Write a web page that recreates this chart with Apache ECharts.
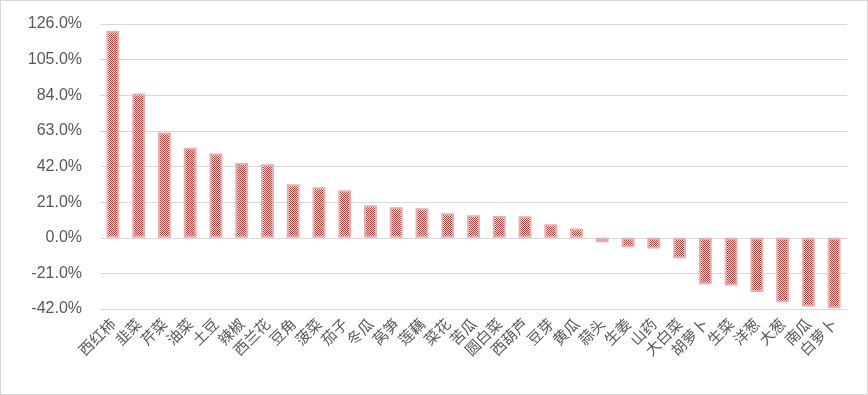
<!DOCTYPE html>
<html>
<head>
<meta charset="utf-8">
<script src="https://cdn.jsdelivr.net/npm/echarts@6/dist/echarts.min.js"></script>
<style>
html,body{margin:0;padding:0;background:#fff;}
#chart{width:866px;height:393px;border:1px solid #d9d9d9;}
</style>
</head>
<body>
<div id="chart"></div>
<script>
const categories = ['西红柿','韭菜','芹菜','油菜','土豆','辣椒','西兰花','豆角','菠菜','茄子','冬瓜','莴笋','莲藕','菜花','苦瓜','圆白菜','西葫芦','豆芽','黄瓜','蒜头','生姜','山药','大白菜','胡萝卜','生菜','洋葱','大葱','南瓜','白萝卜'];
const changePct = [122, 85, 62, 53, 49.6, 44, 43.4, 31.5, 29.8, 28, 19.2, 18, 17.4, 14.5, 13.3, 12.8, 12.7, 8, 5.5, -2.7, -5.6, -6.4, -12.1, -27.4, -28.2, -32, -38, -40.5, -41.5];
const yMin = -42, yMax = 126, yStep = 21;

const cv = document.createElement('canvas');
cv.width = 4; cv.height = 4;
const cx = cv.getContext('2d');
cx.fillStyle = '#ffffff'; cx.fillRect(0,0,4,4);
cx.fillStyle = '#b8403d';
for (let i = 0; i < 4; i++) for (let j = 0; j < 4; j++) if ((i + j) % 2 === 0) cx.fillRect(i, j, 1, 1);

const chart = echarts.init(document.getElementById('chart'), null, {renderer:'canvas'});
chart.setOption({
  animation: false,
  backgroundColor: '#ffffff',
  grid: {left: 99, right: 20, top: 23, bottom: 85},
  xAxis: {
    type: 'category',
    data: categories,
    axisLine: {show: false, onZero: false},
    axisTick: {show: false},
    axisLabel: {
      interval: 0, rotate: 45, margin: 12,
      color: '#595959', fontSize: 15,
      fontFamily: '"Noto Sans CJK SC", sans-serif'
    }
  },
  yAxis: {
    type: 'value',
    min: yMin, max: yMax, interval: yStep,
    axisLine: {show: false},
    axisTick: {show: false},
    splitLine: {lineStyle: {color: '#d9d9d9', width: 1}},
    axisLabel: {
      margin: 18, color: '#595959', fontSize: 16,
      fontFamily: '"Liberation Sans", Arial, sans-serif',
      formatter: v => v.toFixed(1) + '%'
    }
  },
  series: [{
    type: 'bar',
    data: changePct,
    barWidth: '50%',
    itemStyle: {
      color: {image: cv, repeat: 'repeat'},
      borderColor: '#e2b0af',
      borderWidth: 2
    }
  }]
});
</script>
</body>
</html>
